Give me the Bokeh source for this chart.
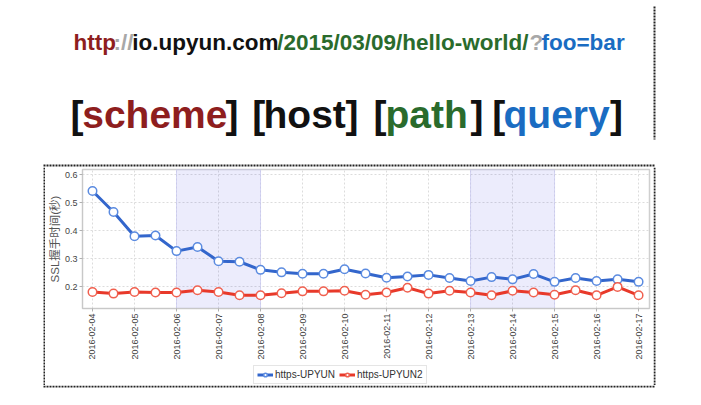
import math
import pandas as pd
from bokeh.plotting import figure
from bokeh.layouts import column, row
from bokeh.models import (BoxAnnotation, Legend, LegendItem, FixedTicker,
                          DatetimeTickFormatter, Range1d, ColumnDataSource)
from bokeh.core.properties import value
from bokeh.embed import file_html
from bokeh.resources import INLINE

# ---------------- data ----------------
start = "2016-02-04"
end = "2016-02-17"
upyun = [0.542, 0.467, 0.380, 0.383, 0.327, 0.342, 0.291, 0.289, 0.260, 0.251,
         0.246, 0.246, 0.262, 0.247, 0.232, 0.236, 0.242, 0.231, 0.220, 0.234,
         0.226, 0.245, 0.217, 0.231, 0.220, 0.226, 0.217]
upyun2 = [0.181, 0.175, 0.181, 0.179, 0.179, 0.187, 0.181, 0.169, 0.169, 0.176,
          0.183, 0.183, 0.185, 0.171, 0.179, 0.196, 0.175, 0.185, 0.179, 0.169,
          0.185, 0.179, 0.171, 0.187, 0.169, 0.199, 0.169]
series_names = ["https-UPYUN", "https-UPYUN2"]
series_line_colors = ["#3366cc", "#e8392a"]
series_marker_colors = ["#5b8be0", "#f0604f"]
weekends = [("2016-02-06", "2016-02-08"), ("2016-02-13", "2016-02-15")]
y_ticks = [0.2, 0.3, 0.4, 0.5, 0.6]
y_label = "SSL握手时间(秒)"

url_parts = ["http", "://", "io.upyun.com", "/2015/03/09/hello-world/", "?", "foo=bar"]
url_colors = ["#8e1e1e", "#a8a8a8", "#111111", "#2a6b2c", "#a8a8a8", "#1a6cc2"]
url_x = [73, 113, 131.7, 276.7, 529, 541]

big_parts = ["[", "scheme", "]", "[", "host", "]", "[", "path", "]", "[", "query", "]"]
big_colors = ["#111111", "#8e1e1e", "#111111", "#111111", "#111111", "#111111",
              "#111111", "#2a6b2c", "#111111", "#111111", "#1a6cc2", "#111111"]
big_x = [70, 81.7, 225, 251.7, 263, 345, 373, 385, 470, 491.7, 503, 609.5]

DOT = dict(line_color="#222222", line_width=2, line_dash="2 1")


def pixel_fig(w, h):
    f = figure(width=w, height=h, x_range=Range1d(0, w), y_range=Range1d(h, 0),
               output_backend="svg", toolbar_location=None,
               x_axis_location=None, y_axis_location=None, min_border=0)
    f.outline_line_color = None
    f.grid.visible = False
    return f


# ---------------- header ----------------
header = pixel_fig(701, 167)
header.text(x=url_x, y=[41.7] * len(url_parts), text=url_parts, text_color=url_colors,
            text_font=value("Liberation Sans"), text_font_size="22.5px",
            text_font_style="bold", text_baseline="alphabetic", text_align="left")
header.text(x=big_x, y=[114.3] * len(big_parts), text=big_parts, text_color=big_colors,
            text_font=value("Liberation Sans"), text_font_size="39px",
            text_font_style="bold", text_baseline="alphabetic", text_align="left")
header.segment(x0=[654], y0=[6], x1=[654], y1=[139], **DOT)
header.segment(x0=[43], y0=[165], x1=[655], y1=[165], **DOT)

# dotted box edges
left_strip = pixel_fig(45, 218)
left_strip.segment(x0=[44], y0=[0], x1=[44], y1=[218], **DOT)
right_strip = pixel_fig(48, 218)
right_strip.segment(x0=[1], y0=[0], x1=[1], y1=[218], **DOT)
bottom_strip = pixel_fig(701, 20)
bottom_strip.segment(x0=[43], y0=[1], x1=[655], y1=[1], **DOT)

# ---------------- chart ----------------
DAY = 86400000.0


def ms(s):
    return pd.Timestamp(s).timestamp() * 1000.0


times = pd.date_range(start, periods=len(upyun), freq="12h")
src = ColumnDataSource(dict(t=times, a=upyun, b=upyun2))
day_ticks = [ms(d) for d in pd.date_range(start, end, freq="D")]

p = figure(width=608, height=195, x_axis_type="datetime",
           x_range=Range1d(ms(start) - 0.238 * DAY, ms(end) + 0.26 * DAY),
           y_range=Range1d(0.1217, 0.619),
           output_backend="svg", toolbar_location=None,
           min_border_left=36, min_border_right=4,
           min_border_top=2, min_border_bottom=53)
p.background_fill_color = "white"
p.border_fill_color = "white"
p.outline_line_color = "#cfcfcf"
p.outline_line_width = 1.5

for g in (p.xgrid, p.ygrid):
    g.grid_line_color = "#dcdcdc"
    g.grid_line_dash = "2 2"
    g.grid_line_width = 1
p.xgrid.ticker = FixedTicker(ticks=day_ticks)
p.ygrid.ticker = FixedTicker(ticks=y_ticks)

xa = p.xaxis[0]
xa.ticker = FixedTicker(ticks=day_ticks)
fmt = "%Y-%m-%d"
xa.formatter = DatetimeTickFormatter(days=fmt, months=fmt, years=fmt, hours=fmt,
                                     hourmin=fmt, minutes=fmt, minsec=fmt,
                                     seconds=fmt, milliseconds=fmt, microseconds=fmt)
xa.major_label_orientation = math.pi / 2
ya = p.yaxis[0]
ya.ticker = FixedTicker(ticks=y_ticks)
ya.axis_label = y_label
ya.axis_label_text_font = "Liberation Sans, 'Noto Sans CJK SC'"
ya.axis_label_text_font_size = "11.5px"
ya.axis_label_text_font_style = "normal"
ya.axis_label_text_color = "#555555"
ya.axis_label_standoff = 1
for ax in (xa, ya):
    ax.axis_line_color = "#c8c8c8"
    ax.major_tick_line_color = "#b0b0b0"
    ax.major_tick_out = 3
    ax.major_tick_in = 0
    ax.minor_tick_line_color = None
    ax.major_label_text_font = "Liberation Sans"
    ax.major_label_text_font_size = "9px"
    ax.major_label_text_color = "#444444"
    ax.major_label_standoff = 2

for a, b in weekends:
    p.add_layout(BoxAnnotation(left=ms(a), right=ms(b), fill_color="#3030e0",
                               fill_alpha=0.09, line_color="#c8c8f0",
                               line_alpha=0.7, line_width=1, level="underlay"))

for col, lc, mc in zip(["a", "b"], series_line_colors, series_marker_colors):
    p.line("t", col, source=src, line_color=lc, line_width=3)
    p.scatter("t", col, source=src, marker="circle", size=8.5, fill_color="white",
              line_color=mc, line_width=1.5)

# ---------------- legend (own strip, same styles; its series fall outside its view) ----------------
lg = pixel_fig(608, 23)
items = []
for name, col, lc, mc in zip(series_names, ["a", "b"], series_line_colors,
                             series_marker_colors):
    r1 = lg.line("t", col, source=src, line_color=lc, line_width=3)
    r2 = lg.scatter("t", col, source=src, marker="circle", size=8,
                    fill_color="white", line_color=mc, line_width=1.5)
    items.append(LegendItem(label=name, renderers=[r1, r2]))
legend = Legend(items=items, orientation="horizontal", location=(171, 1),
                label_text_font="Liberation Sans", label_text_font_size="10px",
                label_text_color="#333333", glyph_width=16, glyph_height=9,
                label_standoff=2, spacing=4, padding=3, margin=0,
                border_line_color="#cccccc", background_fill_color="white",
                label_height=9)
lg.add_layout(legend, "center")

layout = column(header,
                row(left_strip, column(p, lg), right_strip),
                bottom_strip)
open("out.html", "w").write(file_html(layout, INLINE))
